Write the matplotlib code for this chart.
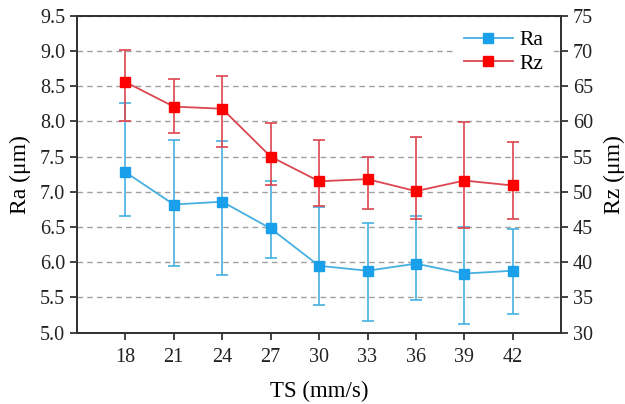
import matplotlib
matplotlib.use("Agg")
import matplotlib.pyplot as plt
from matplotlib.lines import Line2D

ts = [18, 21, 24, 27, 30, 33, 36, 39, 42]
ra = [7.28, 6.82, 6.86, 6.48, 5.95, 5.88, 5.98, 5.84, 5.88]
ra_hi = [8.26, 7.74, 7.72, 7.16, 6.78, 6.56, 6.66, 6.50, 6.47]
ra_lo = [6.66, 5.94, 5.82, 6.06, 5.39, 5.16, 5.47, 5.12, 5.26]
rz = [65.6, 62.1, 61.8, 55.0, 51.5, 51.8, 50.1, 51.6, 50.9]
rz_hi = [70.1, 66.0, 66.4, 59.8, 57.4, 54.9, 57.8, 59.9, 57.1]
rz_lo = [60.0, 58.3, 56.4, 51.0, 48.0, 47.5, 46.1, 44.9, 46.1]

plt.rcParams['font.family'] = ['Liberation Serif', 'DejaVu Serif']

fig = plt.figure(figsize=(6.25, 4.04), dpi=100)
ax = fig.add_axes([0.123, 0.1765, 0.775, 0.7845])
ax2 = ax.twinx()

blue_line = '#45B0E0'
blue_mk = '#1A9FEA'
red_line = '#DC4650'
red_mk = '#FF0000'

ra_err = [[v - l for v, l in zip(ra, ra_lo)], [h - v for v, h in zip(ra, ra_hi)]]
rz_err = [[v - l for v, l in zip(rz, rz_lo)], [h - v for v, h in zip(rz, rz_hi)]]

ax.errorbar(ts, ra, yerr=ra_err, color=blue_line, ecolor=blue_line, lw=1.3,
            elinewidth=1.2, capsize=4, capthick=1.2, marker='s', markersize=6.5,
            markerfacecolor=blue_mk, markeredgecolor=blue_mk, zorder=3)
ax2.errorbar(ts, rz, yerr=rz_err, color=red_line, ecolor=red_line, lw=1.3,
             elinewidth=1.2, capsize=4, capthick=1.2, marker='s', markersize=6.5,
             markerfacecolor=red_mk, markeredgecolor=red_mk, zorder=3)

ax.set_xlim(15, 45)
ax.set_ylim(5.0, 9.5)
ax2.set_ylim(30, 75)
ax.set_xticks(ts)
ax.set_yticks([5.0 + 0.5 * i for i in range(10)])
ax.set_yticklabels([f"{5.0 + 0.5 * i:.1f}" for i in range(10)])
ax2.set_yticks(list(range(30, 80, 5)))

ax.yaxis.grid(True, linestyle=(0, (4, 3)), color='#A0A0A0', lw=1.0)
ax.set_axisbelow(True)

for a in (ax, ax2):
    a.tick_params(direction='out', length=5, width=1.2, labelsize=14.5, colors='#222222')
    for s in a.spines.values():
        s.set_linewidth(1.3)
        s.set_color('#333333')
ax.tick_params(axis='x', pad=6)

ax.set_xlabel('TS (mm/s)', fontsize=16.5, labelpad=10)
ax.set_ylabel('Ra (μm)', fontsize=17, labelpad=6)
ax2.set_ylabel('Rz (μm)', fontsize=17, labelpad=8)

handles = [
    Line2D([], [], color=blue_line, lw=1.3, marker='s', markersize=6.5,
           markerfacecolor=blue_mk, markeredgecolor=blue_mk),
    Line2D([], [], color=red_line, lw=1.3, marker='s', markersize=6.5,
           markerfacecolor=red_mk, markeredgecolor=red_mk),
]
leg = ax2.legend(handles, ['Ra', 'Rz'], loc='upper right', bbox_to_anchor=(0.99, 0.995),
                 frameon=True, fontsize=15.5, handlelength=2.3, borderaxespad=0.2,
                 labelspacing=0.15, handletextpad=0.3)
leg.get_frame().set_edgecolor('none')
leg.get_frame().set_facecolor('white')
leg.get_frame().set_alpha(1.0)

fig.savefig('out.png', dpi=100)
